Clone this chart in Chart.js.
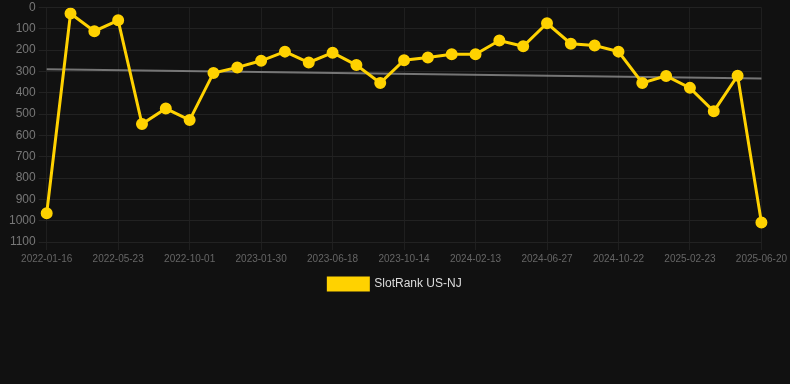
<!DOCTYPE html>
<html>
<head>
<meta charset="utf-8">
<script src="https://cdn.jsdelivr.net/npm/chart.js@4/dist/chart.umd.min.js"></script>
<style>
  html, body { margin: 0; padding: 0; background: #111111; }
  #wrap { position: relative; width: 790px; height: 300px; }
</style>
</head>
<body>
<div id="wrap"><canvas id="chart"></canvas></div>
<script>
const dates = [
  '2022-01-16', '2022-02-27', '2022-04-10', '2022-05-23', '2022-07-04', '2022-08-19',
  '2022-10-01', '2022-11-10', '2022-12-20', '2023-01-30', '2023-03-17', '2023-05-02',
  '2023-06-18', '2023-07-31', '2023-09-01', '2023-10-14', '2023-11-25', '2024-01-02',
  '2024-02-13', '2024-03-29', '2024-05-12', '2024-06-27', '2024-08-08', '2024-09-15',
  '2024-10-22', '2024-12-03', '2025-01-12', '2025-02-23', '2025-04-05', '2025-05-12',
  '2025-06-20'
];
const ranks = [
  965, 28, 111, 60, 547, 474, 528, 307, 281, 250, 207, 258, 212, 270, 354, 247,
  235, 219, 219, 155, 182, 74, 170, 178, 207, 354, 321, 377, 487, 320, 1008
];
const trendEnds = [290, 333];
const yTicks = [0, 100, 200, 300, 400, 500, 600, 700, 800, 900, 1000, 1100];

const trend = dates.map((d, i) => (i === 0 ? trendEnds[0] : i === dates.length - 1 ? trendEnds[1] : null));

new Chart(document.getElementById('chart'), {
  type: 'line',
  data: {
    labels: dates,
    datasets: [
      {
        label: 'SlotRank US-NJ',
        data: ranks,
        borderColor: '#ffd200',
        backgroundColor: '#ffd200',
        borderWidth: 3,
        pointRadius: 4.5,
        pointHoverRadius: 4.5,
        tension: 0
      },
      {
        label: 'trend',
        data: trend,
        spanGaps: true,
        borderColor: 'rgba(160,160,160,0.7)',
        borderWidth: 2,
        pointRadius: 0,
        tension: 0
      }
    ]
  },
  options: {
    animation: false,
    responsive: true,
    maintainAspectRatio: false,
    layout: { padding: 0 },
    plugins: {
      legend: {
        position: 'bottom',
        labels: {
          color: '#dddddd',
          font: { family: 'Arial, Liberation Sans', size: 12 },
          boxWidth: 40,
          boxHeight: 12,
          filter: (item) => item.text !== 'trend'
        }
      },
      tooltip: { enabled: false }
    },
    scales: {
      x: {
        afterBuildTicks: (axis) => { axis.ticks = axis.ticks.filter((t) => t.value % 3 === 0); },
        grid: { color: '#1f1f1f' },
        border: { display: false },
        ticks: {
          color: '#666666',
          font: { family: 'Arial, Liberation Sans', size: 10 },
          maxRotation: 0,
          autoSkip: false
        }
      },
      y: {
        reverse: true,
        min: 0,
        max: 1100,
        afterBuildTicks: (axis) => { axis.ticks = yTicks.map((v) => ({ value: v })); },
        afterFit: (s) => { s.width += 6; s.paddingTop = 3; },
        grid: { color: '#222222' },
        border: { display: false },
        ticks: {
          color: '#777777',
          font: { family: 'Arial, Liberation Sans', size: 12 },
          callback: (v) => String(v)
        }
      }
    }
  }
});
</script>
</body>
</html>
